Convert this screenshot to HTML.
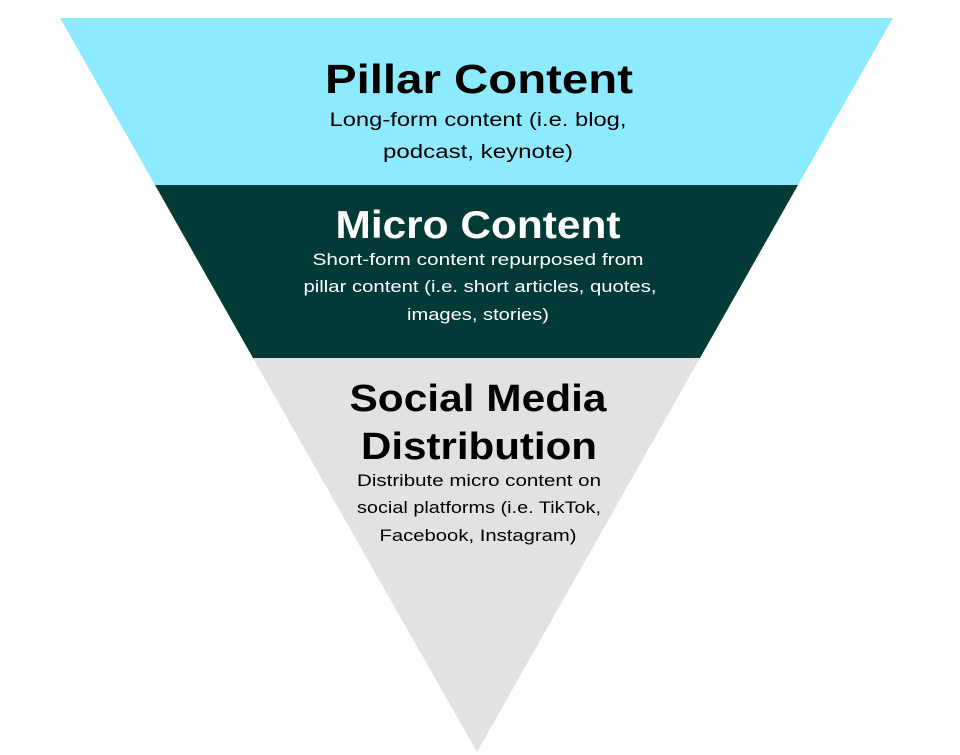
<!DOCTYPE html>
<html><head><meta charset="utf-8"><style>
html,body{margin:0;padding:0;background:#fff;}
svg{display:block}
text{font-family:"Liberation Sans",sans-serif;text-anchor:middle}
</style></head><body>
<svg width="960" height="755" viewBox="0 0 960 755" xmlns="http://www.w3.org/2000/svg">
<polygon points="60,18 893,18 798,185 155,185" fill="#8EEBFF"/>
<polygon points="155,185 798,185 700,358 253,358" fill="#023A38"/>
<polygon points="253,358 700,358 477,752" fill="#E2E2E2"/>
<text x="479" y="93" font-size="41" font-weight="bold" fill="#000" textLength="308" lengthAdjust="spacingAndGlyphs">Pillar Content</text>
<text x="478" y="126" font-size="19" fill="#000" textLength="297" lengthAdjust="spacingAndGlyphs">Long-form content (i.e. blog,</text>
<text x="478" y="158" font-size="19" fill="#000" textLength="190" lengthAdjust="spacingAndGlyphs">podcast, keynote)</text>
<text x="478" y="238" font-size="39" font-weight="bold" fill="#fff" textLength="285" lengthAdjust="spacingAndGlyphs">Micro Content</text>
<text x="478" y="265" font-size="17" fill="#fff" textLength="331" lengthAdjust="spacingAndGlyphs">Short-form content repurposed from</text>
<text x="480" y="292" font-size="17" fill="#fff" textLength="353" lengthAdjust="spacingAndGlyphs">pillar content (i.e. short articles, quotes,</text>
<text x="478" y="320" font-size="17" fill="#fff" textLength="142" lengthAdjust="spacingAndGlyphs">images, stories)</text>
<text x="478" y="411" font-size="38" font-weight="bold" fill="#000" textLength="257" lengthAdjust="spacingAndGlyphs">Social Media</text>
<text x="479" y="459" font-size="38" font-weight="bold" fill="#000" textLength="236" lengthAdjust="spacingAndGlyphs">Distribution</text>
<text x="479" y="486" font-size="17" fill="#000" textLength="244" lengthAdjust="spacingAndGlyphs">Distribute micro content on</text>
<text x="479" y="513" font-size="17" fill="#000" textLength="244" lengthAdjust="spacingAndGlyphs">social platforms (i.e. TikTok,</text>
<text x="478" y="541" font-size="17" fill="#000" textLength="197" lengthAdjust="spacingAndGlyphs">Facebook, Instagram)</text>
</svg>
</body></html>
